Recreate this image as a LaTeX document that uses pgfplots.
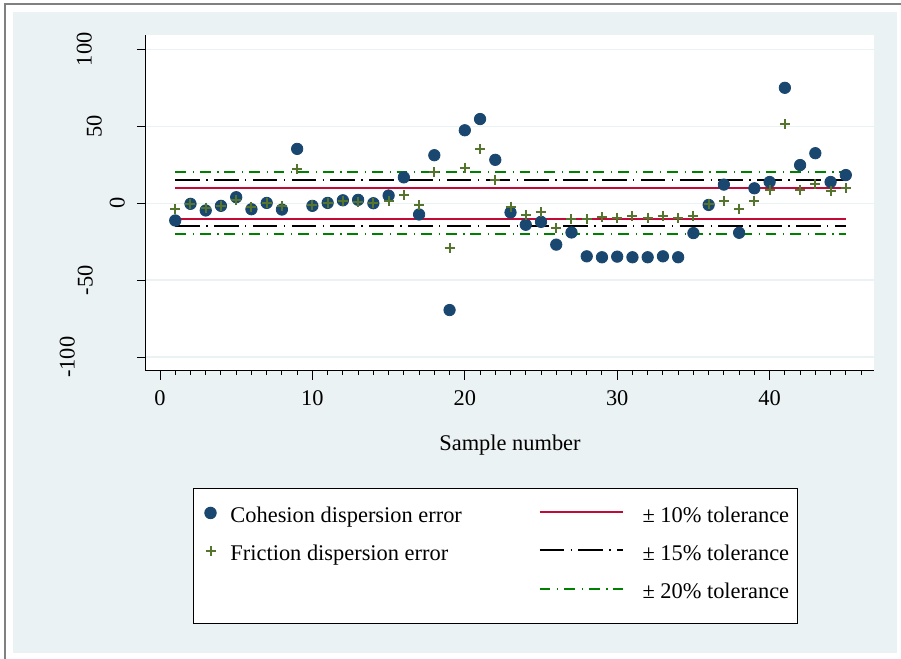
\documentclass[border=0pt]{standalone}
\usepackage{fontspec}
\setmainfont{Liberation Serif}
\usepackage{pgfplots}
\pgfplotsset{compat=1.18}
\definecolor{stbg}{RGB}{234,242,243}
\definecolor{stnavy}{RGB}{26,71,111}
\definecolor{stgreen}{RGB}{85,117,47}
\definecolor{stred}{RGB}{195,10,55}
\definecolor{stline}{RGB}{0,128,0}
\definecolor{stborder}{RGB}{128,128,128}
\newcommand{\yl}[2]{\raisebox{0pt}[\height][#2]{#1}}
\pgfplotsset{
  mklegend/.style={legend image code/.code={\path (-4pt,0pt) (4pt,0pt); \draw[##1] plot coordinates {(0pt,2.5pt)};}},
  lnlegend/.style={legend image code/.code={\draw[##1] (0pt,2.9pt) -- (41.5pt,2.9pt);}},
}
\pgfplotstableread{
n coh fri
1 -11.2 -3.9
2 -0.4 -0.4
3 -4.7 -2.8
4 -1.7 -1.7
5 3.9 2.2
6 -3.9 -2.2
7 0.2 0.2
8 -4.1 -1.7
9 35.3 22.4
10 -1.7 -1.1
11 0.2 0.2
12 1.9 1.5
13 2.2 1.1
14 0.0 0.0
15 5.0 1.7
16 16.8 5.6
17 -7.3 -1.1
18 31.2 20.0
19 -69.4 -29.3
20 47.4 23.1
21 54.7 35.1
22 28.2 15.3
23 -6.0 -2.2
24 -14.0 -7.5
25 -12.1 -6.0
26 -26.9 -16.2
27 -19.0 -10.1
28 -34.5 -10.1
29 -35.1 -8.8
30 -34.7 -9.3
31 -35.1 -8.4
32 -35.1 -9.3
33 -34.5 -8.2
34 -35.1 -9.5
35 -19.4 -8.0
36 -1.1 -0.6
37 12.1 1.7
38 -19.2 -3.7
39 9.7 1.7
40 13.8 8.6
41 75.0 51.3
42 24.8 8.8
43 32.5 12.3
44 13.8 8.2
45 18.3 10.1
}\datatable
\begin{document}
\begin{tikzpicture}
\useasboundingbox (0,0) rectangle (450.5pt,329.5pt);
\fill[stbg] (6.5pt,3pt) rectangle (448.5pt,323.5pt);
\draw[stborder, line width=1pt] (2.5pt,0pt) -- (2.5pt,327.5pt) -- (450.5pt,327.5pt);
\begin{axis}[
  at={(73pt,144pt)}, anchor=south west,
  scale only axis, width=364pt, height=168pt,
  xmin=-0.919, xmax=46.85, ymin=-109, ymax=109.3,
  axis lines=left, axis line style={-, line width=0.5pt, black},
  axis background/.style={fill=white},
  tick align=outside,
  xtick={0,10,20,30,40},
  minor xtick={1,...,46},
  ytick={-100,-50,0,50,100},
  yticklabels={\yl{-100}{31pt},\yl{-50}{22pt},\yl{0}{6pt},\yl{50}{17.5pt},\yl{100}{22.5pt}},
  major tick length=4.5pt, minor tick length=2pt,
  tick style={black, line width=0.5pt},
  ymajorgrids, grid style={stbg, line width=0.7pt},
  tick label style={font=\fontsize{11.2}{13}\selectfont},
  /pgf/number format/assume math mode=true,
  xticklabel style={anchor=base, inner sep=0pt, yshift=-12.5pt},
  yticklabel style={rotate=90, anchor=south, inner sep=0pt},
  xlabel={Sample number},
  xlabel style={at={(axis description cs:0.5,0)}, anchor=base, yshift=-40pt, font=\fontsize{11.2}{13}\selectfont},
  clip=false,
  transpose legend, legend columns=3,
  legend style={
    at={(0.06456,-0.3491)}, anchor=north west,
    draw=black, line width=0.5pt, fill=white,
    font=\fontsize{11.2}{13}\selectfont,
    inner xsep=4pt, inner ysep=5pt,
    row sep=0pt,
    nodes={inner sep=0pt, text height=11.7pt, text depth=7.45pt},
    /tikz/column 1/.style={column sep=5.5pt},
    /tikz/column 2/.style={column sep=38.3pt},
    /tikz/column 3/.style={column sep=9.5pt},
  },
  legend cell align=left,
]
% tolerance lines
\addplot[stred, line width=1pt, forget plot] coordinates {(1,10) (45,10)};
\addplot[stred, line width=1pt, forget plot] coordinates {(1,-10) (45,-10)};
\addplot[black, line width=1pt, dash pattern=on 12.3pt off 3.2pt on 0.7pt off 3.2pt, forget plot] coordinates {(1,15) (45,15)};
\addplot[black, line width=1pt, dash pattern=on 12.3pt off 3.2pt on 0.7pt off 3.2pt, forget plot] coordinates {(1,-15) (45,-15)};
\addplot[stline, line width=1pt, dash pattern=on 5.4pt off 3.4pt on 0.6pt off 2.9pt, forget plot] coordinates {(1,20) (45,20)};
\addplot[stline, line width=1pt, dash pattern=on 5.4pt off 3.4pt on 0.6pt off 2.9pt, forget plot] coordinates {(1,-20) (45,-20)};
% scatter
\addplot[only marks, mark=*, mark size=2.85pt, draw=stnavy, fill=stnavy, mklegend]
  table[x=n, y=coh] {\datatable};
\addlegendentry{Cohesion dispersion error}
\addplot[only marks, mark=+, mark size=2.5pt, draw=stgreen, line width=1pt, mklegend]
  table[x=n, y=fri] {\datatable};
\addlegendentry{Friction dispersion error}
\addlegendimage{empty legend}
\addlegendentry{}
\addlegendimage{stred, line width=1pt, lnlegend}
\addlegendentry{± 10\% tolerance\hspace{14pt}}
\addlegendimage{black, line width=1pt, dash pattern=on 12.3pt off 3.2pt on 0.7pt off 3.2pt, lnlegend}
\addlegendentry{± 15\% tolerance\hspace{14pt}}
\addlegendimage{stline, line width=1pt, dash pattern=on 5.4pt off 3.4pt on 0.6pt off 2.9pt, lnlegend}
\addlegendentry{± 20\% tolerance\hspace{14pt}}
\end{axis}
\end{tikzpicture}
\end{document}
